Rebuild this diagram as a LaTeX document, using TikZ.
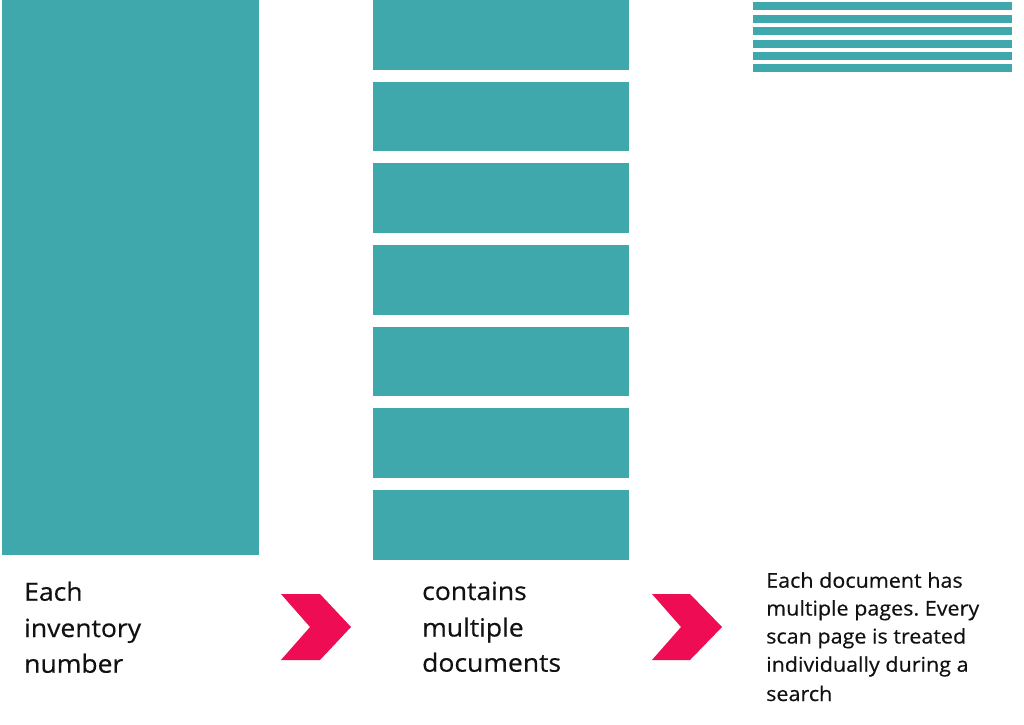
\documentclass[tikz,border=0pt]{standalone}
\usepackage{fontspec}
\setmainfont{Open Sans}[FakeStretch=1.06,FakeBold=0.4]
\frenchspacing
\definecolor{teal1}{RGB}{62,168,172}
\definecolor{pink1}{RGB}{238,12,85}
\definecolor{ink}{RGB}{17,17,17}
\begin{document}
\begin{tikzpicture}[x=1pt,y=-1pt,
  block/.style={fill=teal1,draw=none},
  chev/.style={fill=pink1,draw=none},
  bigtxt/.style={anchor=base west,inner sep=0pt,text=ink,font=\fontsize{25}{36}\selectfont},
  smalltxt/.style={anchor=base west,inner sep=0pt,text=ink,font=\fontsize{20.3}{28}\selectfont}]
\useasboundingbox (0,0) rectangle (1024,724);
\fill[white] (0,0) rectangle (1024,724);
% left block
\path[block] (2,0) rectangle (259,554.5);
% middle blocks
\foreach \t in {0,81.7,163.3,245,326.7,408.3,490}{
  \path[block] (373,\t) rectangle (629,\t+69.6);
}
% right stripes
\foreach \i in {0,...,5}{
  \path[block] (753,2.3+12.4*\i) rectangle (1012,10.3+12.4*\i);
}
% chevrons
\path[chev] (281,594) -- (320,594) -- (351,627) -- (320,660) -- (281,660) -- (310,627) -- cycle;
\path[chev] (652,594) -- (690,594) -- (722,627) -- (690,660) -- (652,660) -- (681,627) -- cycle;
% texts
\node[bigtxt] (l1) at (24,600.7) {Each};
\node[bigtxt] (l2) at (24,637) {inventory};
\node[bigtxt] (l3) at (24,672.7) {number};
\node[bigtxt] (m1) at (422,600) {contains};
\node[bigtxt] (m2) at (422,636.5) {multiple};
\node[bigtxt] (m3) at (422,671.7) {documents};
\node[smalltxt] (r1) at (766,587.7) {Each document has};
\node[smalltxt] (r2) at (766,615.5) {multiple pages. Every};
\node[smalltxt] (r3) at (766,643.5) {scan page is treated};
\node[smalltxt] (r4) at (766,671.7) {individually during a};
\node[smalltxt] (r5) at (766,701) {search};
\end{tikzpicture}
\end{document}
